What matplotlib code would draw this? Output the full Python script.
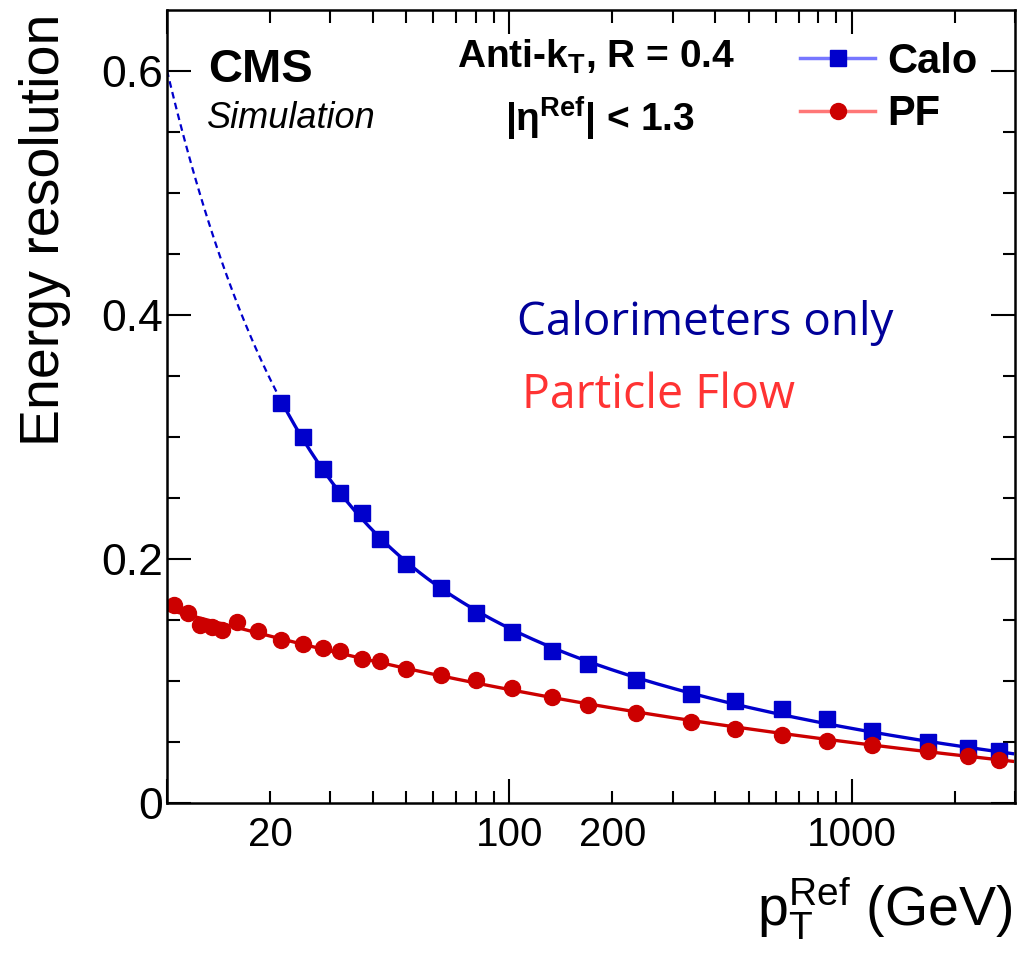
import numpy as np
import matplotlib
matplotlib.use("Agg")
import matplotlib.pyplot as plt
from matplotlib.lines import Line2D

plt.rcParams['font.family'] = ['Liberation Sans', 'DejaVu Sans']
plt.rcParams['mathtext.fontset'] = 'custom'
plt.rcParams['mathtext.rm'] = 'Liberation Sans'
plt.rcParams['mathtext.it'] = 'Liberation Sans'
plt.rcParams['mathtext.bf'] = 'Liberation Sans:bold'

# reference-jet pT bins (GeV), PF covers the full range, Calo starts at ~21 GeV
pt_pf = np.array([10.5, 11.5, 12.5, 13.5, 14.5, 16.0, 18.5, 21.5, 25.0, 28.5,
                  32.0, 37.0, 42.0, 50.0, 63.0, 80.0, 102.0, 133.0, 170.0, 235.0,
                  340.0, 455.0, 625.0, 845.0, 1145.0, 1670.0, 2180.0, 2690.0])
res_pf = np.array([0.162, 0.156, 0.146, 0.144, 0.142, 0.148, 0.141, 0.134, 0.130, 0.127,
                   0.125, 0.118, 0.116, 0.110, 0.105, 0.101, 0.094, 0.087, 0.080, 0.0735,
                   0.066, 0.061, 0.056, 0.051, 0.0475, 0.0426, 0.0385, 0.035])
pt_calo = pt_pf[7:]
res_calo = np.array([0.328, 0.300, 0.274, 0.254, 0.238, 0.216, 0.196, 0.176, 0.156, 0.140,
                     0.125, 0.114, 0.101, 0.089, 0.084, 0.077, 0.069, 0.059, 0.050, 0.045,
                     0.043])

xticks_major = [10, 100, 1000]
xlabels_major = ['', '100', '1000']
xticks_minor = [20, 30, 40, 50, 60, 70, 80, 90, 200, 300, 400, 500, 600, 700, 800, 900, 2000, 3000]
xlabels_minor = ['20'] + [''] * 7 + ['200'] + [''] * 9
yticks = [0, 0.2, 0.4, 0.6]
ylabels = ['0', '0.2', '0.4', '0.6']


def fit_resolution(pt, res):
    # sigma^2 = N^2/x^2 + S^2 x^(m-1) + C^2, scan m and solve the rest linearly
    best = None
    for m in np.linspace(-1.0, 0.95, 196):
        A = np.column_stack([1 / pt**2, pt**(m - 1), np.ones_like(pt)])
        coef, *_ = np.linalg.lstsq(A, res**2, rcond=None)
        model = np.sqrt(np.clip(A @ coef, 1e-8, None))
        chi2 = np.sum(((model - res) / res)**2)
        if best is None or chi2 < best[0]:
            best = (chi2, m, coef)
    _, m, c = best
    return lambda x: np.sqrt(np.clip(c[0] / x**2 + c[1] * x**(m - 1) + c[2], 0, None))


f_calo = fit_resolution(pt_calo, res_calo)
f_pf = fit_resolution(pt_pf, res_pf)

blue = '#0000cc'
red = '#cc0000'

fig = plt.figure(figsize=(10.31, 9.55), dpi=100)
ax = fig.add_axes([167 / 1031, 1 - 803 / 955, 848 / 1031, 793 / 955])

x_ext = np.geomspace(10, pt_calo[0], 100)
x_calo = np.geomspace(pt_calo[0], 2950, 300)
x_pf = np.geomspace(10, 2950, 400)
ax.plot(x_ext, f_calo(x_ext), color=blue, lw=1.6, ls=(0, (3, 2)))
ax.plot(x_calo, f_calo(x_calo), color=blue, lw=2.4)
ax.plot(x_pf, f_pf(x_pf), color=red, lw=2.4)
ax.plot(pt_calo, res_calo, ls='none', marker='s', ms=11, color=blue)
ax.plot(pt_pf, res_pf, ls='none', marker='o', ms=11.5, color=red)

ax.set_xscale('log')
ax.set_xlim(10, 3000)
ax.set_ylim(0, 0.65)
ax.set_xticks(xticks_major, labels=xlabels_major)
ax.set_xticks(xticks_minor, labels=xlabels_minor, minor=True)
ax.set_yticks(yticks, labels=ylabels)
ax.set_yticks(np.arange(0.05, 0.65, 0.05), minor=True)
ax.tick_params(which='both', direction='in', top=True, right=True, width=1.5)
ax.tick_params(which='major', length=17)
ax.tick_params(which='minor', length=9)
ax.tick_params(axis='x', which='both', labelsize=29, pad=9)
ax.tick_params(axis='y', which='both', labelsize=32, pad=3)
for s in ax.spines.values():
    s.set_linewidth(1.8)

fig.text(45 / 1031, 1 - 230 / 955, 'Energy resolution', rotation=90,
         ha='center', va='center', fontsize=40)
fig.text(1012 / 1031, 1 - 925 / 955, r'$\mathregular{p_{T}^{Ref}}$ (GeV)',
         ha='right', va='baseline', fontsize=40)

fig.text(208 / 1031, 1 - 82 / 955, 'CMS', fontsize=34, weight='bold', va='baseline')
fig.text(207 / 1031, 1 - 128 / 955, 'Simulation', fontsize=26, style='italic', va='baseline')
fig.text(596 / 1031, 1 - 68 / 955, r'Anti-k$_{\mathbf{T}}$, R = 0.4', fontsize=28,
         weight='bold', ha='center', va='baseline')
fig.text(600 / 1031, 1 - 132 / 955, r'|$\mathregular{\eta}^{\mathbf{Ref}}$| < 1.3',
         fontsize=28, weight='bold', ha='center', va='baseline')

fig.text(517 / 1031, 1 - 335 / 955, 'Calorimeters only', fontsize=33,
         family='Open Sans', color='#000099', va='baseline')
fig.text(522 / 1031, 1 - 408 / 955, 'Particle Flow', fontsize=33.5,
         family='Open Sans', color='#ff3333', va='baseline')

handles = [Line2D([], [], color='#7777ff', lw=2.5, marker='s', ms=11, mfc=blue, mec=blue),
           Line2D([], [], color='#ff7777', lw=2.5, marker='o', ms=11.5, mfc=red, mec=red)]
ax.legend(handles, ['Calo', 'PF'], loc='upper left', bbox_to_anchor=(0.7465, 0.96),
          frameon=False, prop={'weight': 'bold', 'size': 30}, handlelength=1.8,
          handletextpad=0.3, labelspacing=0.3, borderpad=0, borderaxespad=0)

fig.savefig('out.png', dpi=100)
